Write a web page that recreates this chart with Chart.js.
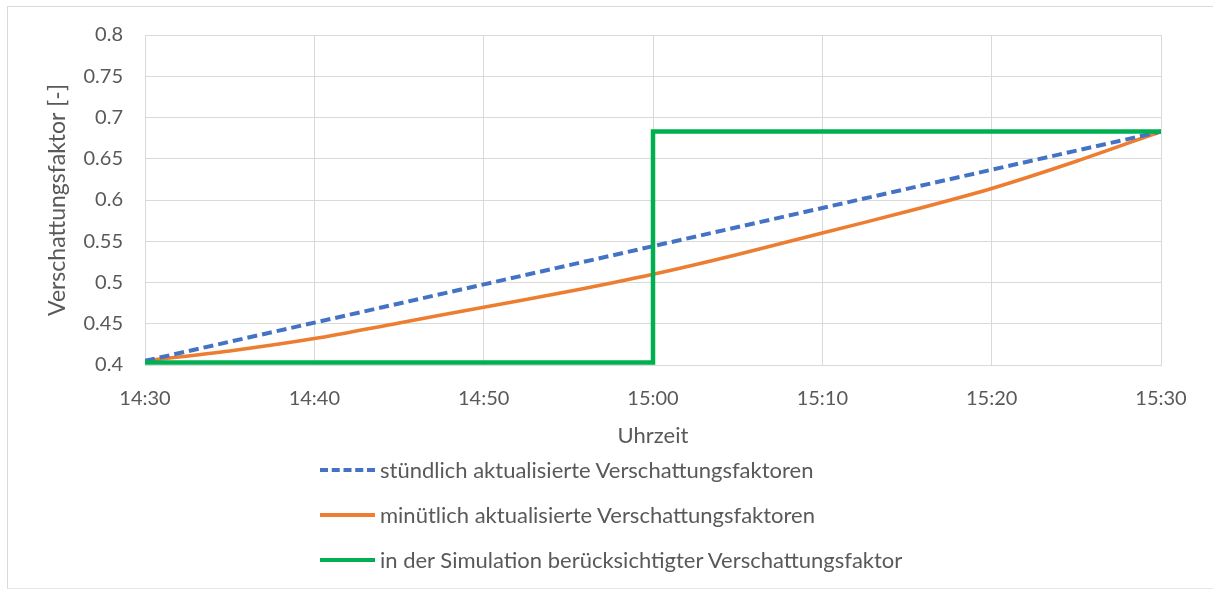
<!DOCTYPE html>
<html>
<head>
<meta charset="utf-8">
<script src="https://cdn.jsdelivr.net/npm/chart.js@4"></script>
<style>
  body { margin: 0; background: #fff; }
  #wrap { position: relative; width: 1213px; height: 590px; }
  #frame { position: absolute; left: 7px; top: 6px; width: 1220px; height: 581px;
           border-left: 1px solid #d9d9d9; border-top: 1px solid #d9d9d9; border-bottom: 1px solid #e6e6e6; }
  #legend { position: absolute; left: 320px; top: 447px; font-family: Lato, sans-serif;
            font-size: 22px; color: #595959; }
  .row { display: flex; align-items: center; height: 45px; }
  .swatch { width: 55px; height: 0; margin-right: 5px; }
</style>
</head>
<body>
<div id="wrap">
  <div id="frame"></div>
  <canvas id="myChart" width="1213" height="590"></canvas>
  <div id="legend"></div>
</div>
<script>
// minutes after 14:30
const tickLabels = ["14:30", "14:40", "14:50", "15:00", "15:10", "15:20", "15:30"];
const seriesNames = [
  "stündlich aktualisierte Verschattungsfaktoren",
  "minütlich aktualisierte Verschattungsfaktoren",
  "in der Simulation berücksichtigter Verschattungsfaktor"
];
const hourlyMinutes = [0, 60];
const hourlyValues = [0.405, 0.683];
const minuteMinutes = [0, 5, 10, 15, 20, 25, 30, 35, 40, 45, 50, 55, 60];
const minuteValues = [0.405, 0.417, 0.432, 0.451, 0.470, 0.489, 0.510, 0.534, 0.560, 0.586, 0.614, 0.647, 0.683];
const simMinutes = [0, 30, 30, 60];
const simValues = [0.403, 0.403, 0.683, 0.683];
const colors = ["#4472C4", "#ED7D31", "#00B050"];

function toPoints(xs, ys) {
  return xs.map((x, i) => ({ x: x, y: ys[i] }));
}

const tickFont = { family: "Lato", size: 20 };
const gridColor = "#d9d9d9";

const data = {
  datasets: [
    {
      label: seriesNames[0],
      data: toPoints(hourlyMinutes, hourlyValues),
      borderColor: colors[0],
      borderWidth: 4,
      borderDash: [10, 5],
      pointRadius: 0,
      order: 2
    },
    {
      label: seriesNames[1],
      data: toPoints(minuteMinutes, minuteValues),
      borderColor: colors[1],
      borderWidth: 3.5,
      pointRadius: 0,
      tension: 0.3,
      order: 3
    },
    {
      label: seriesNames[2],
      data: toPoints(simMinutes, simValues),
      borderColor: colors[2],
      borderWidth: 4.5,
      pointRadius: 0,
      order: 1
    }
  ]
};

const config = {
  type: "line",
  data: data,
  options: {
    responsive: false,
    animation: false,
    layout: { padding: { left: 40, top: 35, right: 52, bottom: 137 } },
    plugins: { legend: { display: false }, tooltip: { enabled: false } },
    scales: {
      x: {
        type: "linear",
        min: 0,
        max: 60,
        afterFit: (s) => { s.height = 88; },
        afterBuildTicks: (s) => { s.ticks = tickLabels.map((t, i) => ({ value: i * 10 })); },
        ticks: {
          padding: 22,
          color: "#595959",
          font: tickFont,
          maxRotation: 0,
          callback: (v) => tickLabels[v / 10]
        },
        grid: { color: gridColor, drawTicks: false },
        border: { color: gridColor },
        title: { display: true, text: "Uhrzeit", color: "#595959", font: { family: "Lato", size: 22 }, padding: 4 }
      },
      y: {
        min: 0.4,
        max: 0.8,
        afterFit: (s) => { s.width = 105; },
        ticks: {
          stepSize: 0.05,
          padding: 22,
          color: "#595959",
          font: tickFont,
          callback: (v) => String(Math.round(v * 100) / 100)
        },
        grid: { color: gridColor, drawTicks: false },
        border: { color: gridColor },
        title: { display: true, text: "Verschattungsfaktor [-]", color: "#595959", font: { family: "Lato", size: 23 }, padding: 4 }
      }
    }
  }
};

const myChart = new Chart(document.getElementById("myChart"), config);

// legend as three rows below the plot
const legend = document.getElementById("legend");
data.datasets.forEach((ds, i) => {
  const row = document.createElement("div");
  row.className = "row";
  const sw = document.createElement("div");
  sw.className = "swatch";
  sw.style.borderTop = (i === 0 ? "4px dashed " : "4px solid ") + ds.borderColor;
  const txt = document.createElement("span");
  txt.textContent = ds.label;
  row.appendChild(sw);
  row.appendChild(txt);
  legend.appendChild(row);
});
</script>
</body>
</html>
